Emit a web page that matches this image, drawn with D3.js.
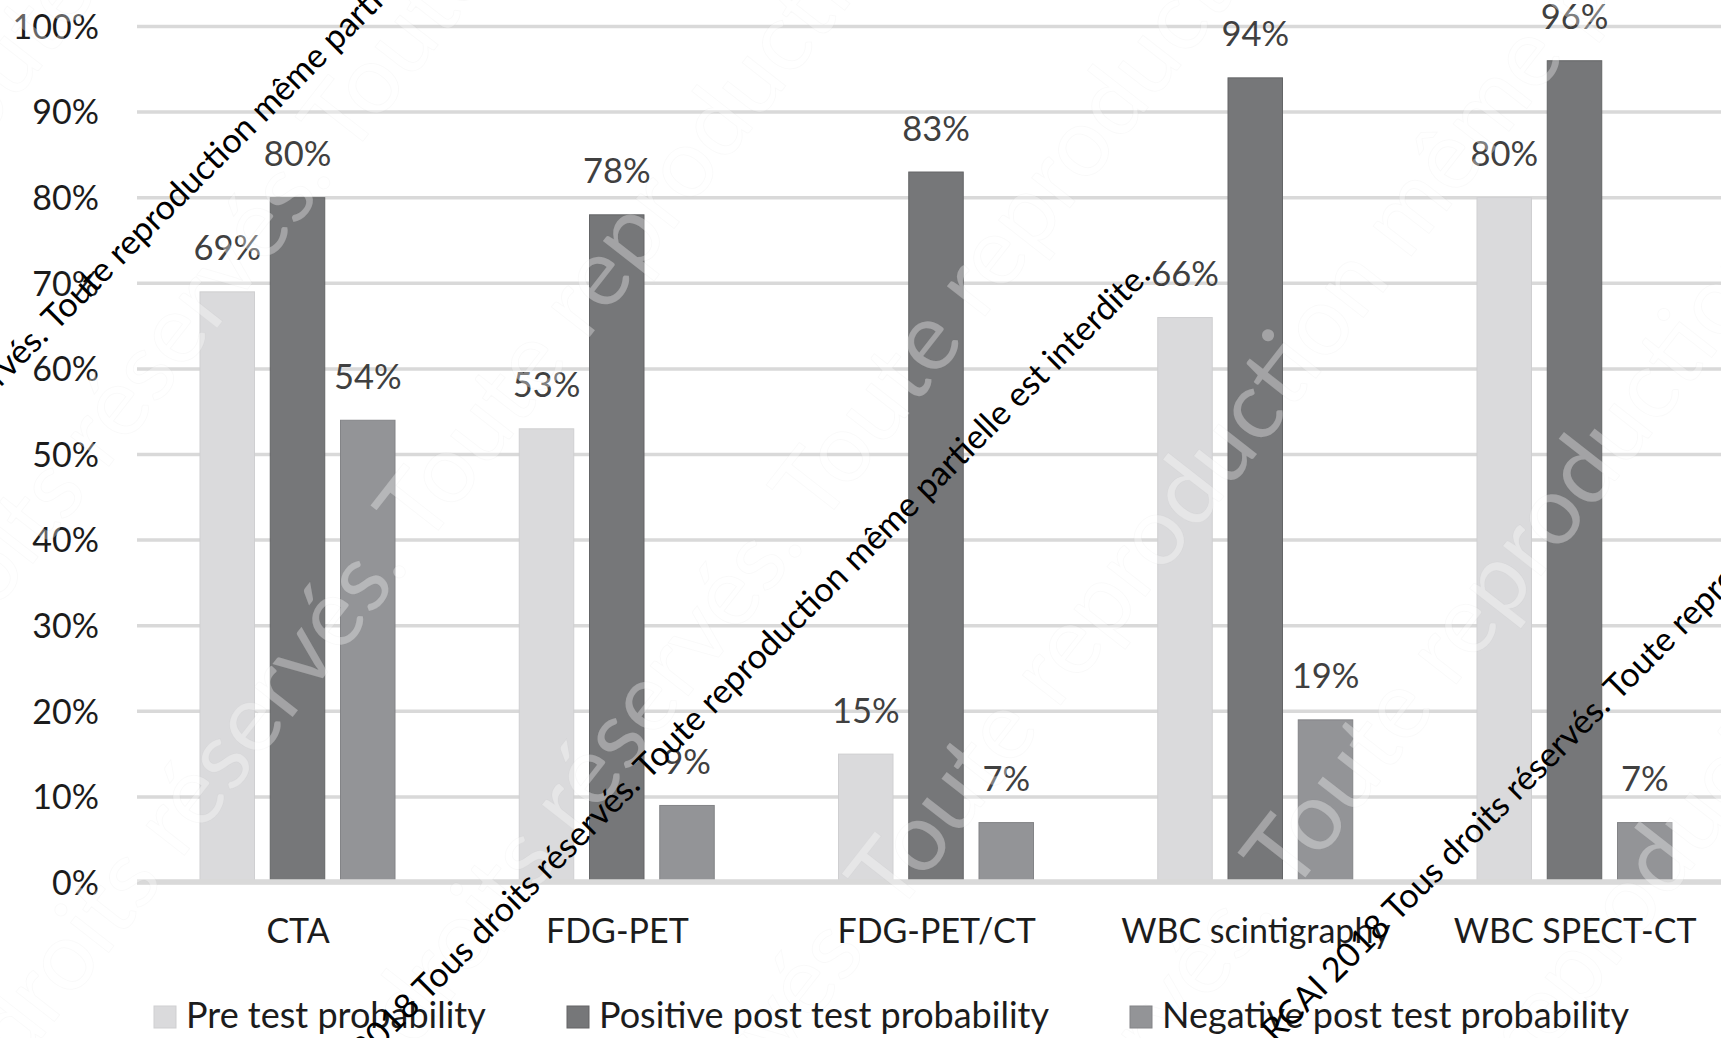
<!DOCTYPE html>
<html>
<head>
<meta charset="utf-8">
<script src="https://cdn.jsdelivr.net/npm/d3@7"></script>
<style>
  html, body { margin: 0; padding: 0; background: #ffffff; }
  svg { display: block; }
  text { font-family: Lato, "Open Sans", sans-serif; }
</style>
</head>
<body>
<svg id="chart" width="1721" height="1038"></svg>
<script>
// Diagnostic probabilities by imaging technique (percent)
const categories = ["CTA", "FDG-PET", "FDG-PET/CT", "WBC scintigraphy", "WBC SPECT-CT"];
const seriesNames = ["Pre test probability", "Positive post test probability", "Negative post test probability"];
const preTest = [69, 53, 15, 66, 80];
const positivePostTest = [80, 78, 83, 94, 96];
const negativePostTest = [54, 9, 7, 19, 7];
const yTickValues = [0, 10, 20, 30, 40, 50, 60, 70, 80, 90, 100];

const seriesValues = [preTest, positivePostTest, negativePostTest];
const seriesColors = ["#dadadc", "#767779", "#939497"];
const seriesStroke = ["#cfcfd1", "#646567", "#838487"];

const W = 1721, H = 1038;
const svg = d3.select("#chart");

const plotLeft = 137;
const bandStart = 138.5, bandStep = 319.25;

const x0 = d3.scaleBand()
  .domain(categories)
  .range([bandStart, bandStart + bandStep * categories.length])
  .paddingInner(0).paddingOuter(0);

const x1 = d3.scaleBand()
  .domain(seriesNames)
  .range([61, 257])
  .paddingInner(0.21).paddingOuter(0);

const y = d3.scaleLinear().domain([0, 100]).range([882, 26]);

// gridlines + y tick labels
const yAxis = d3.axisLeft(y)
  .tickValues(yTickValues)
  .tickSize(-(W - plotLeft))
  .tickPadding(38)
  .tickFormat(d => d + "%");

const gy = svg.append("g")
  .attr("transform", `translate(${plotLeft},0)`)
  .call(yAxis);
gy.select(".domain").remove();
gy.selectAll(".tick line")
  .attr("stroke", "#d9d9d9")
  .attr("stroke-width", 3.5);
gy.selectAll(".tick text")
  .attr("font-size", 34)
  .attr("fill", "#1c1c1c")
  .attr("font-family", "Lato, sans-serif")
  .attr("dy", "0.36em");

// bars
const rows = categories.map((c, i) => ({
  category: c,
  values: seriesNames.map((s, j) => ({ series: s, idx: j, value: seriesValues[j][i] }))
}));

const groups = svg.append("g").selectAll("g")
  .data(rows)
  .join("g")
  .attr("transform", d => `translate(${x0(d.category)},0)`);

groups.selectAll("rect")
  .data(d => d.values)
  .join("rect")
  .attr("x", d => x1(d.series) + 0.5)
  .attr("y", d => y(d.value) + 0.5)
  .attr("width", x1.bandwidth() - 1)
  .attr("height", d => y(0) - y(d.value))
  .attr("fill", d => seriesColors[d.idx])
  .attr("stroke", d => seriesStroke[d.idx])
  .attr("stroke-width", 1);

// zero baseline
svg.append("line")
  .attr("x1", plotLeft).attr("x2", W)
  .attr("y1", y(0)).attr("y2", y(0))
  .attr("stroke", "#d9d9d9")
  .attr("stroke-width", 5.5);

// large faint background notice, repeated in parallel diagonal bands
const bigNotice = "© 2018 Tous droits réservés. Toute reproduction même partielle est interdite. ";
const bigAngle = -52;
const rad = bigAngle * Math.PI / 180;
const nx = -Math.sin(rad), ny = Math.cos(rad);   // normal to the text direction
const bandOffsets = [74, 373, 672, 971, 1270, 1569, 1868];
const bigLayer = svg.append("g").attr("pointer-events", "none");
bandOffsets.forEach((off, k) => {
  // point on the band closest to the origin, then slide along the band
  const px = nx * off, py = ny * off;
  bigLayer.append("text")
    .attr("transform", `translate(${px},${py}) rotate(${bigAngle})`)
    .attr("x", -1400 + (k % 2) * 260)
    .attr("font-size", 96)
    .attr("fill", "#ffffff")
    .attr("fill-opacity", 0.33)
    .attr("stroke", "#000")
    .attr("stroke-opacity", 0.025)
    .attr("stroke-width", 1)
    .attr("xml:space", "preserve")
    .text(bigNotice + bigNotice + bigNotice);
});

// value labels
groups.selectAll("text.value")
  .data(d => d.values)
  .join("text")
  .attr("class", "value")
  .attr("x", d => x1(d.series) + x1.bandwidth() / 2)
  .attr("y", d => y(d.value) - 31)
  .attr("text-anchor", "middle")
  .attr("font-size", 34.5)
  .attr("fill", "#404040")
  .text(d => d.value + "%");

// category labels
const xAxis = d3.axisBottom(x0).tickSize(0).tickPadding(0);
const gx = svg.append("g")
  .attr("transform", `translate(0,${y(0)})`)
  .call(xAxis);
gx.select(".domain").remove();
gx.selectAll(".tick text")
  .attr("font-size", 34)
  .attr("font-family", "Lato, sans-serif")
  .attr("fill", "#1c1c1c")
  .attr("dy", null)
  .attr("y", 61);

// legend
const legendX = [154, 567, 1130];
const legend = svg.append("g").selectAll("g")
  .data(seriesNames)
  .join("g")
  .attr("transform", (d, i) => `translate(${legendX[i]},1006)`);
legend.append("rect")
  .attr("width", 22).attr("height", 22)
  .attr("fill", (d, i) => seriesColors[i])
  .attr("stroke", (d, i) => seriesStroke[i]);
legend.append("text")
  .attr("x", 32).attr("y", 22)
  .attr("font-size", 36)
  .attr("fill", "#1c1c1c")
  .text(d => d);

// copyright notice running diagonally across the chart
const noticeHead = "RCAI 2018 Tous droits réservés. ";
const noticeTail = "Toute reproduction même partielle est interdite.";
const noticeLines = [
  { x: 56, y: 332, angle: -45 },
  { x: 648, y: 781, angle: -45 },
  { x: 1618, y: 702, angle: -45 }
];
const notice = svg.append("g").attr("pointer-events", "none");
noticeLines.forEach(l => {
  const g = notice.append("g").attr("transform", `translate(${l.x},${l.y}) rotate(${l.angle})`);
  g.append("text").attr("text-anchor", "end").attr("font-size", 34).attr("fill", "#000")
    .attr("xml:space", "preserve").text(noticeHead);
  g.append("text").attr("text-anchor", "start").attr("font-size", 34).attr("fill", "#000")
    .text(noticeTail);
});
</script>
</body>
</html>
